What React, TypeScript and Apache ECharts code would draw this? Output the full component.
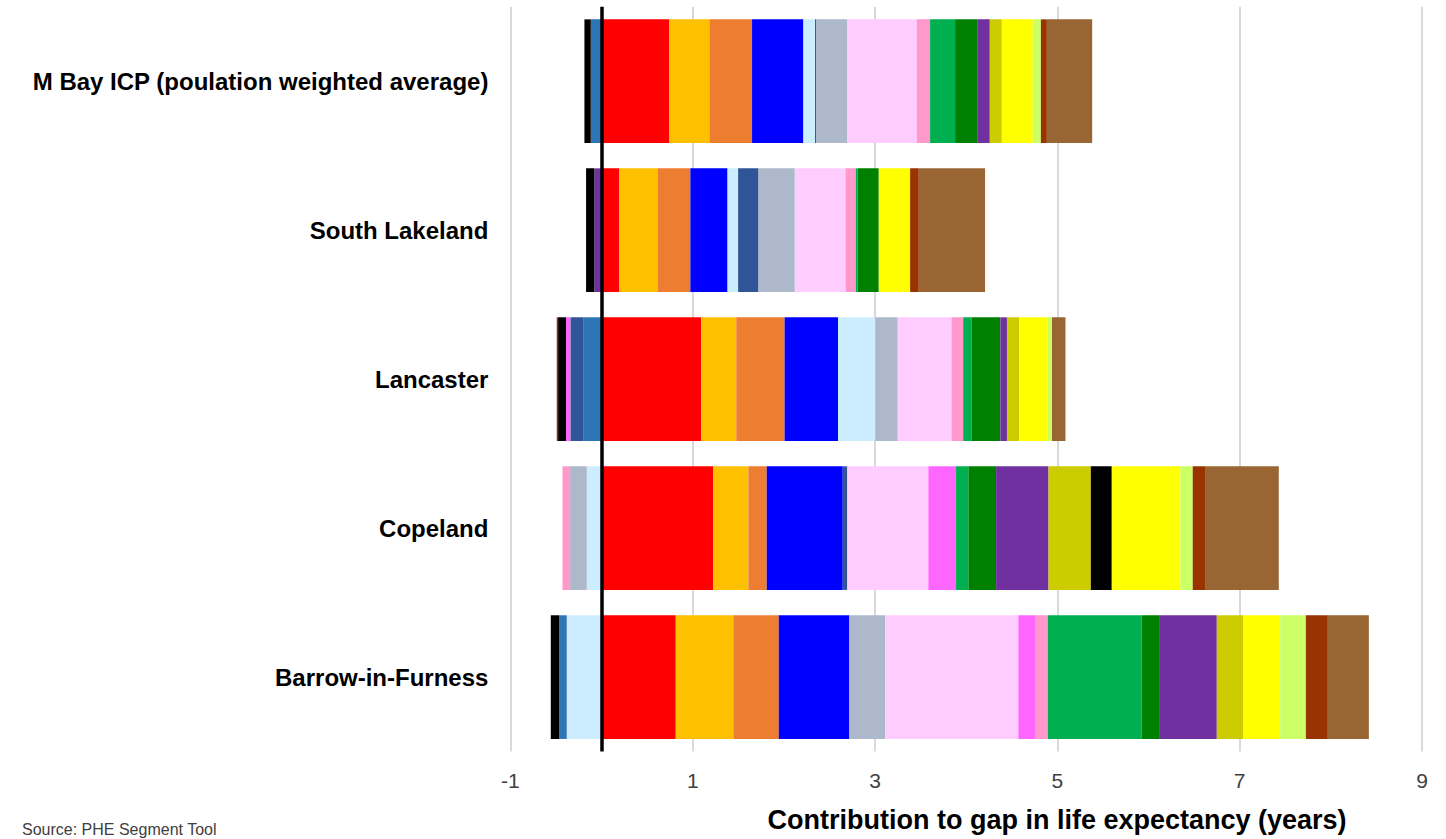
import React, { useEffect, useRef } from "react";
import * as echarts from "echarts";

// Areas, top to bottom
const categories = [
  "M Bay ICP (poulation weighted average)",
  "South Lakeland",
  "Lancaster",
  "Copeland",
  "Barrow-in-Furness",
];

// Contribution (years) of each component, per area (same order as categories)
const red = [0.74, 0.195, 1.092, 1.223, 0.814];
const amber = [0.443, 0.421, 0.386, 0.388, 0.632];
const orange = [0.468, 0.358, 0.53, 0.201, 0.498];
const blue = [0.563, 0.408, 0.586, 0.834, 0.775];
const lightBlue = [0.128, 0.116, 0.409, -0.162, -0.382];
const steelBlue = [-0.118, 0, -0.202, 0, -0.084];
const darkBlue = [0.015, 0.224, -0.14, 0.05, 0];
const greyBlue = [0.34, 0.398, 0.246, -0.183, 0.392];
const lightPink = [0.761, 0.556, 0.59, 0.889, 1.461];
const magenta = [0, 0, -0.048, 0.304, 0.191];
const pink = [0.146, 0.113, 0.128, -0.084, 0.132];
const green = [0.274, 0.02, 0.091, 0.135, 1.031];
const darkGreen = [0.249, 0.232, 0.317, 0.304, 0.19];
const purple = [0.132, -0.079, 0.072, 0.575, 0.633];
const olive = [0.132, 0, 0.136, 0.464, 0.292];
const black = [-0.07, -0.091, -0.087, 0.23, -0.091];
const yellow = [0.34, 0.344, 0.31, 0.753, 0.403];
const lightGreen = [0.088, 0, 0.048, 0.135, 0.282];
const darkRed = [0.066, 0.095, -0.015, 0.143, 0.241];
const brown = [0.497, 0.727, 0.148, 0.801, 0.45];

const xTicks = [-1, 1, 3, 5, 7, 9];

const seriesDefs: { name: string; color: string; data: number[] }[] = [
  { name: "Red", color: "#FF0000", data: red },
  { name: "Amber", color: "#FFC000", data: amber },
  { name: "Orange", color: "#ED7D31", data: orange },
  { name: "Blue", color: "#0000FF", data: blue },
  { name: "Light blue", color: "#CCECFF", data: lightBlue },
  { name: "Steel blue", color: "#2E75B6", data: steelBlue },
  { name: "Dark blue", color: "#2F5597", data: darkBlue },
  { name: "Grey blue", color: "#ADB9CA", data: greyBlue },
  { name: "Light pink", color: "#FFCCFF", data: lightPink },
  { name: "Magenta", color: "#FF66FF", data: magenta },
  { name: "Pink", color: "#FF99CC", data: pink },
  { name: "Green", color: "#00B050", data: green },
  { name: "Dark green", color: "#008000", data: darkGreen },
  { name: "Purple", color: "#7030A0", data: purple },
  { name: "Olive", color: "#CCCC00", data: olive },
  { name: "Black", color: "#000000", data: black },
  { name: "Yellow", color: "#FFFF00", data: yellow },
  { name: "Light green", color: "#CCFF66", data: lightGreen },
  { name: "Dark red", color: "#993300", data: darkRed },
  { name: "Brown", color: "#996633", data: brown },
];

const FONT = "'Liberation Sans', Arial, sans-serif";

export default function App() {
  const ref = useRef<HTMLDivElement>(null);

  useEffect(() => {
    if (!ref.current) return;
    const chart = echarts.init(ref.current, undefined, { renderer: "svg" });

    const series: any[] = seriesDefs.map((s, i) => ({
      name: s.name,
      type: "bar",
      stack: "total",
      data: s.data,
      barCategoryGap: "17%",
      itemStyle: { color: s.color },
      emphasis: { disabled: true },
      ...(i === seriesDefs.length - 1
        ? {
            markLine: {
              silent: true,
              symbol: ["none", "none"],
              label: { show: false },
              lineStyle: { color: "#000000", width: 3.5, type: "solid" },
              data: [{ xAxis: 0 }],
            },
          }
        : {}),
    }));

    chart.setOption({
      animation: false,
      backgroundColor: "#ffffff",
      grid: { left: 510.4, right: 24, top: 6.7, bottom: 87.4, containLabel: false },
      xAxis: {
        type: "value",
        min: xTicks[0],
        max: xTicks[xTicks.length - 1],
        interval: 2,
        axisLine: { show: false },
        axisTick: { show: false },
        splitLine: { show: true, lineStyle: { color: "#D9D9D9", width: 2 } },
        axisLabel: {
          color: "#404040",
          fontSize: 21,
          fontFamily: FONT,
          margin: 18,
        },
      },
      yAxis: {
        type: "category",
        inverse: true,
        data: categories,
        axisLine: { show: false },
        axisTick: { show: false },
        splitLine: { show: false },
        axisLabel: {
          color: "#000000",
          fontSize: 24,
          fontWeight: "bold",
          fontFamily: FONT,
          margin: 22,
        },
      },
      graphic: [
        {
          type: "text",
          x: 1057,
          y: 820,
          style: {
            text: "Contribution to gap in life expectancy (years)",
            fontSize: 27,
            fontWeight: "bold",
            fontFamily: FONT,
            fill: "#000000",
            align: "center",
            verticalAlign: "middle",
          },
        },
        {
          type: "text",
          x: 22,
          y: 821,
          style: {
            text: "Source: PHE Segment Tool",
            fontSize: 16,
            fontFamily: FONT,
            fill: "#404040",
            align: "left",
            verticalAlign: "top",
          },
        },
      ],
      series,
    });

    return () => chart.dispose();
  }, []);

  return (
    <div
      ref={ref}
      style={{ position: "absolute", left: 0, top: 0, width: 1446, height: 839 }}
    />
  );
}
